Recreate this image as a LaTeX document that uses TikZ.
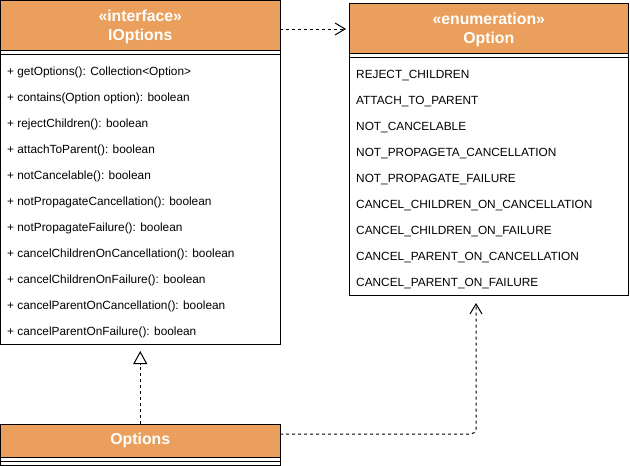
\documentclass[tikz,border=0pt]{standalone}
\usepackage{fontspec}
\setmainfont{Liberation Sans}
\usetikzlibrary{arrows.meta}
\definecolor{headorange}{RGB}{234,160,92}
\newcommand\umlmem{\fontsize{11.85}{14}\selectfont}
\newcommand\umlhead{\bfseries\fontsize{15.8}{19}\selectfont}
\begin{document}
\begin{tikzpicture}[x=1pt,y=-1pt,
  classbox/.style={draw=black, line width=1pt, fill=white, inner sep=0pt, outer sep=0pt, anchor=north west, minimum width=279.5pt},
  classhead/.style={draw=black, line width=1pt, fill=headorange, inner sep=0pt, outer sep=0pt, anchor=north west, minimum width=279.5pt},
  headtext/.style={inner sep=0pt, text=white, font=\umlhead, align=center},
  member/.style={anchor=west, inner sep=0pt, font=\umlmem, text=black},
  sepline/.style={draw=black, line width=1pt},
  dep/.style={draw=black, line width=1pt, dash pattern=on 3pt off 3pt, -{Straight Barb[length=10pt,width=12pt,line width=1pt]}},
  realize/.style={draw=black, line width=1pt, dash pattern=on 3pt off 3pt, -{Triangle[open,length=13pt,width=14pt,fill=white,line width=1pt]}}
]
\useasboundingbox (0,0) rectangle (630,466);
% IOptions
\node[classbox, minimum height=343.5pt] (iopt) at (0.5,0.5) {};
\node[classhead, minimum height=49.5pt] (iopthead) at (0.5,0.5) {};
\node[headtext] (iopttitle) at ([yshift=-1.5pt]iopthead.center) {«interface»\\IOptions};
\draw[sepline] ([yshift=-4pt]iopthead.south west) -- ([yshift=-4pt]iopthead.south east);
\node[member] (m1) at (7,72.5) {+ getOptions(): Collection<Option>};
\node[member] (m2) at (7,98.5) {+ contains(Option option): boolean};
\node[member] (m3) at (7,124.5) {+ rejectChildren(): boolean};
\node[member] (m4) at (7,150.5) {+ attachToParent(): boolean};
\node[member] (m5) at (7,176.5) {+ notCancelable(): boolean};
\node[member] (m6) at (7,202.5) {+ notPropagateCancellation(): boolean};
\node[member] (m7) at (7,228.5) {+ notPropagateFailure(): boolean};
\node[member] (m8) at (7,254.5) {+ cancelChildrenOnCancellation(): boolean};
\node[member] (m9) at (7,280.5) {+ cancelChildrenOnFailure(): boolean};
\node[member] (m10) at (7,306.5) {+ cancelParentOnCancellation(): boolean};
\node[member] (m11) at (7,332.5) {+ cancelParentOnFailure(): boolean};
% Option enum
\node[classbox, minimum height=292pt] (enum) at (349,3) {};
\node[classhead, minimum height=50pt] (enumhead) at (349,3) {};
\node[headtext] (enumtitle) at ([yshift=-1.5pt]enumhead.center) {«enumeration»\\Option};
\draw[sepline] ([yshift=-4pt]enumhead.south west) -- ([yshift=-4pt]enumhead.south east);
\node[member] (e1) at (356,75.5) {REJECT\_CHILDREN};
\node[member] (e2) at (356,101.5) {ATTACH\_TO\_PARENT};
\node[member] (e3) at (356,127.5) {NOT\_CANCELABLE};
\node[member] (e4) at (356,153.5) {NOT\_PROPAGETA\_CANCELLATION};
\node[member] (e5) at (356,179.5) {NOT\_PROPAGATE\_FAILURE};
\node[member] (e6) at (356,205.5) {CANCEL\_CHILDREN\_ON\_CANCELLATION};
\node[member] (e7) at (356,231.5) {CANCEL\_CHILDREN\_ON\_FAILURE};
\node[member] (e8) at (356,257.5) {CANCEL\_PARENT\_ON\_CANCELLATION};
\node[member] (e9) at (356,283.5) {CANCEL\_PARENT\_ON\_FAILURE};
% Options class
\node[classbox, minimum height=41pt] (opt) at (0.5,424) {};
\node[classhead, minimum height=33pt] (opthead) at (0.5,424) {};
\node[headtext] (opttitle) at (opthead.center) {Options};
\draw[sepline] ([yshift=-4pt]opthead.south west) -- ([yshift=-4pt]opthead.south east);
% connectors
\draw[dep, shorten >=3pt] (iopthead.east |- 0,29) -- (enumhead.west |- 0,29);
\draw[realize, shorten >=7pt] (opthead.north) -- (iopt.south);
\draw[dep, rounded corners=5pt, shorten >=8pt] (opthead.east |- 0,434) -| (476,0 |- enum.south);
\end{tikzpicture}
\end{document}
